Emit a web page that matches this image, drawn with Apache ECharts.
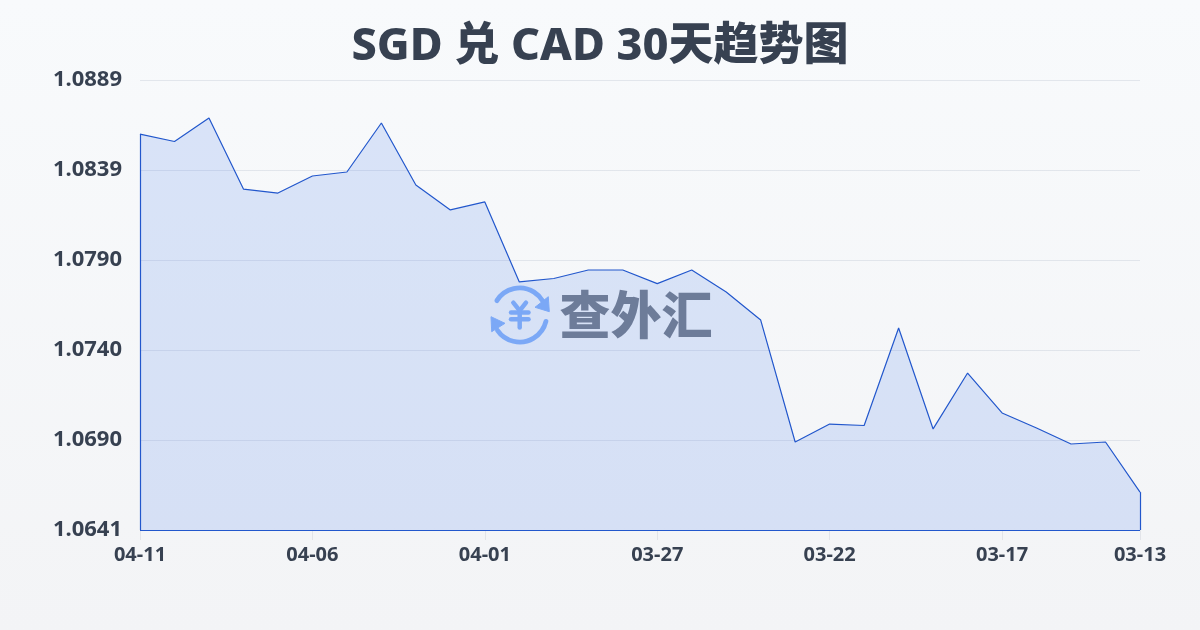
<!DOCTYPE html>
<html><head><meta charset="utf-8">
<style>html,body{margin:0;padding:0;width:1200px;height:630px;overflow:hidden}
#c{width:1200px;height:630px;background:linear-gradient(180deg,#f8fafc 0%,#f3f4f6 100%)}</style>
<script src="https://cdn.jsdelivr.net/npm/echarts@6/dist/echarts.min.js"></script>
</head><body><div id="c"></div>
<script>
const titleText = 'SGD 兑 CAD 30天趋势图';
const categories = ['04-11','04-10','04-09','04-08','04-07','04-06','04-05','04-04','04-03','04-02','04-01','03-31','03-30','03-29','03-28','03-27','03-26','03-25','03-24','03-23','03-22','03-21','03-20','03-19','03-18','03-17','03-16','03-15','03-14','03-13'];
const rates = [1.08592,1.08551,1.08681,1.08289,1.08267,1.08361,1.08383,1.08653,1.08311,1.08174,1.08218,1.07777,1.07796,1.07843,1.07843,1.07768,1.07843,1.07722,1.07567,1.06895,1.06994,1.06986,1.07523,1.06967,1.07275,1.07055,1.06972,1.06884,1.06895,1.06619];
const yTicks = [1.0641,1.06906,1.07402,1.07898,1.08394,1.0889];
const yLabels = ['1.0641','1.0690','1.0740','1.0790','1.0839','1.0889'];
const xLabelIdx = [0,5,10,15,20,25,29];
const font = '"Noto Sans","Noto Sans CJK SC",sans-serif';
const lineColor = '#2257cc';
const logoBlue = '#8ab4f8';
const last = rates.length - 1, yMin = yTicks[0], yMax = yTicks[yTicks.length-1];
const chart = echarts.init(document.getElementById('c'), null, {renderer:'canvas'});
const bar = (x1,y1,x2,y2)=>({type:'line',shape:{x1,y1,x2,y2},style:{stroke:logoBlue,lineWidth:4.5,lineCap:'round'}});
chart.setOption({
  animation:false,
  backgroundColor:'transparent',
  title:{text:titleText,left:'center',top:20,textStyle:{fontFamily:font,fontSize:45,fontWeight:800,color:'#374151'}},
  grid:{left:140,right:60,top:80,bottom:100},
  xAxis:{type:'category',boundaryGap:false,data:categories,
    axisLine:{show:false},
    axisTick:{show:true,length:10,customValues:xLabelIdx,lineStyle:{color:'#e2e4e9',width:1}},
    axisLabel:{customValues:xLabelIdx,margin:15,fontFamily:font,fontSize:20,fontWeight:700,color:'#374151',hideOverlap:false}
  },
  yAxis:{type:'value',min:yMin,max:yMax,
    axisLine:{show:false},
    splitLine:{show:true,lineStyle:{color:'rgba(200,206,218,0.45)',width:1}},
    axisTick:{show:false,customValues:yTicks},
    axisLabel:{customValues:yTicks,margin:18,fontFamily:font,fontSize:22,fontWeight:700,color:'#374151',
      formatter:v=>{const i=yTicks.findIndex(t=>Math.abs(t-v)<1e-6);return i>=0?yLabels[i]:''}}
  },
  series:[{type:'line',data:rates,symbol:'none',smooth:false,
    lineStyle:{color:lineColor,width:1.2},
    areaStyle:{color:'rgba(37,99,235,0.14)',opacity:1,origin:'start'},
    markLine:{silent:true,symbol:'none',label:{show:false},emphasis:{disabled:true},
      lineStyle:{color:lineColor,width:1.2,type:'solid',opacity:1},
      data:[
        [{xAxis:0,yAxis:rates[0]},{xAxis:0,yAxis:yMin}],
        [{xAxis:0,yAxis:yMin},{xAxis:last,yAxis:yMin}],
        [{xAxis:last,yAxis:yMin},{xAxis:last,yAxis:rates[last]}]
      ]}
  }],
  graphic:[{type:'group',silent:true,z:100,children:[
    {type:'arc',shape:{cx:519.7,cy:315,r:27,startAngle:-2.58,endAngle:-0.55},style:{stroke:logoBlue,lineWidth:4.8,fill:null,lineCap:'round'}},
    {type:'arc',shape:{cx:519.7,cy:315,r:27,startAngle:0.24,endAngle:2.54},style:{stroke:logoBlue,lineWidth:4.8,fill:null,lineCap:'round'}},
    {type:'polygon',shape:{points:[[548.3,296.7],[549.3,311.7],[535,307.3]]},style:{fill:logoBlue,stroke:logoBlue,lineWidth:1,lineJoin:'round'}},
    {type:'polygon',shape:{points:[[491,316.7],[505,323.3],[491.7,331.7]]},style:{fill:logoBlue,stroke:logoBlue,lineWidth:1,lineJoin:'round'}},
    bar(513.3,302.7,519.7,310.7),bar(526,302.7,519.7,310.7),
    bar(511,312.5,528.5,312.5),bar(511,319.3,528.5,319.3),bar(519.7,310.7,519.7,327.5),
    {type:'text',style:{x:636,y:315,text:'查外汇',align:'center',verticalAlign:'middle',fontFamily:'"Noto Sans CJK SC",sans-serif',fontSize:51,fontWeight:900,fill:'#7a808c'}}
  ]}]
});
</script></body></html>
